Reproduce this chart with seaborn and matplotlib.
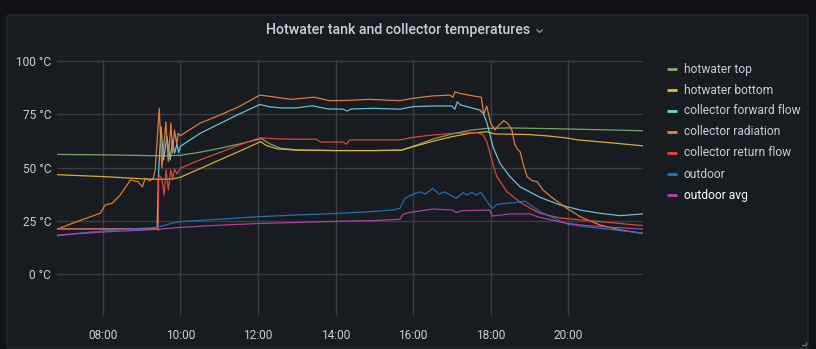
import matplotlib
matplotlib.use("Agg")
import matplotlib.pyplot as plt
from matplotlib.patches import FancyBboxPatch
from matplotlib.lines import Line2D
import pandas as pd
import seaborn as sns

# ---- data: time of day in hours, temperature in °C ----
series_names = ["hotwater top", "hotwater bottom", "collector forward flow",
                "collector radiation", "collector return flow", "outdoor", "outdoor avg"]
series_colors = ["#7EB26D", "#EAB839", "#6ED0E0", "#EF843C", "#E24D42", "#1F78C1", "#BA43A9"]

hotwater_top_t = [6.83, 8.0, 9.0, 9.5, 10.0, 10.5, 11.0, 11.5, 12.0, 12.1, 12.3, 12.6, 13.0,
                  14.0, 15.0, 15.7, 16.0, 16.5, 17.0, 17.5, 17.9, 18.5, 19.5, 20.5, 21.93]
hotwater_top_v = [56.2, 56.0, 55.7, 55.5, 55.8, 57.2, 59.0, 61.0, 63.2, 63.5, 61.2, 59.0, 58.3,
                  58.0, 58.0, 58.2, 60.0, 63.3, 65.8, 67.6, 68.4, 68.6, 68.3, 67.9, 67.3]

hotwater_bottom_t = [6.83, 8.0, 9.0, 9.45, 9.8, 10.0, 10.5, 11.0, 11.5, 12.07, 12.2, 12.5, 13.0,
                     14.0, 15.0, 15.7, 16.0, 16.5, 17.0, 17.5, 17.9, 18.1, 19.0, 19.5, 20.0,
                     20.25, 21.25, 21.93]
hotwater_bottom_v = [46.7, 45.8, 44.8, 44.5, 44.7, 45.5, 49.5, 53.5, 57.5, 62.2, 60.5, 58.8, 58.2,
                     58.0, 58.0, 58.2, 59.8, 62.3, 64.5, 66.2, 66.8, 65.8, 65.5, 64.8, 63.8,
                     63.0, 61.4, 60.2]

forward_t = [6.83, 9.40, 9.43, 9.50, 9.565, 9.652, 9.737, 9.796, 9.848, 9.91, 9.951, 10.0,
             10.5, 11.0, 11.5, 12.05, 12.3, 12.6, 13.0, 13.4, 13.8, 14.2, 14.3, 14.4, 15.0,
             15.66, 16.0, 16.5, 17.0, 17.08, 17.14, 17.22, 17.72, 17.81, 17.91, 18.06, 18.24,
             18.50, 18.76, 19.27, 19.79, 20.31, 20.82, 21.34, 21.93]
forward_v = [21.3, 21.3, 45.0, 69.2, 53.6, 64.5, 53.6, 63.0, 56.7, 61.0, 57.0, 60.0,
             66.0, 70.5, 75.0, 79.6, 78.5, 78.0, 78.0, 79.0, 77.5, 77.4, 76.5, 77.5, 77.8,
             77.4, 78.6, 78.9, 78.9, 77.4, 80.9, 79.4, 77.0, 75.5, 70.8, 59.8, 52.0,
             45.8, 41.0, 36.1, 32.5, 30.1, 28.6, 27.5, 28.3]

radiation_t = [6.83, 7.3, 7.93, 8.06, 8.24, 8.45, 8.71, 8.91, 9.02, 9.09, 9.22, 9.30, 9.35,
               9.454, 9.523, 9.626, 9.686, 9.755, 9.796, 9.848, 9.91, 9.936, 10.0, 10.5, 11.0,
               11.5, 12.05, 12.35, 12.85, 13.45, 13.85, 14.3, 14.85, 15.66, 16.0, 16.5, 16.95,
               17.03, 17.08, 17.21, 17.55, 17.76, 17.82, 17.90, 18.0, 18.11, 18.22, 18.34,
               18.45, 18.55, 18.62, 18.70, 18.76, 18.85, 18.94, 19.07, 19.20, 19.35, 19.61,
               19.97, 20.31, 20.82, 21.34, 21.93]
radiation_v = [21.2, 24.5, 28.6, 32.5, 33.3, 37.2, 44.2, 43.4, 41.0, 45.0, 43.9, 45.1, 48.9,
               77.8, 50.0, 71.5, 52.8, 71.0, 56.9, 67.6, 60.6, 66.0, 65.0, 70.8, 74.5,
               78.5, 84.0, 83.3, 82.0, 83.0, 81.4, 81.5, 82.0, 81.4, 82.5, 83.6, 84.0,
               83.0, 85.6, 84.8, 83.6, 83.0, 75.0, 78.8, 71.0, 67.6, 70.0, 72.0,
               70.5, 67.5, 61.0, 58.5, 57.5, 51.0, 45.8, 43.9, 43.4, 39.5, 35.6,
               30.9, 27.0, 23.1, 20.8, 19.2]

return_t = [6.83, 9.40, 9.43, 9.44, 9.52, 9.58, 9.63, 9.69, 9.75, 9.80, 9.85, 9.91, 10.0,
            10.5, 11.0, 11.5, 12.05, 12.5, 13.0, 13.5, 13.62, 14.2, 14.28, 14.36, 15.0, 15.66,
            16.0, 16.5, 17.0, 17.65, 17.80, 17.90, 18.03, 18.16, 18.42, 18.76, 19.02, 19.27,
            19.79, 20.31, 20.82, 21.93]
return_v = [21.3, 21.3, 20.6, 46.5, 45.0, 37.2, 48.9, 39.5, 48.9, 45.0, 49.2, 47.0, 49.7,
            53.6, 57.0, 60.5, 64.0, 63.5, 63.3, 63.3, 62.0, 62.0, 61.0, 63.0, 63.0, 63.0,
            64.2, 65.3, 66.0, 66.4, 65.5, 62.2, 53.6, 45.8, 38.7, 33.8, 31.0, 28.6,
            26.4, 25.5, 24.7, 22.8]

outdoor_t = [6.83, 7.5, 8.5, 9.4, 9.5, 9.8, 10.0, 11.0, 12.0, 13.0, 14.0, 15.0, 15.5, 15.66,
             15.79, 16.0, 16.18, 16.31, 16.51, 16.67, 16.82, 16.95, 17.11, 17.29, 17.39, 17.52,
             17.62, 17.75, 17.91, 18.04, 18.17, 18.42, 18.63, 18.89, 19.02, 19.27, 19.61,
             19.97, 20.49, 21.16, 21.93]
outdoor_v = [18.0, 19.5, 21.0, 22.0, 22.5, 24.0, 24.7, 25.8, 27.0, 27.8, 28.5, 29.5, 30.2, 30.9,
             35.6, 37.6, 38.7, 37.6, 40.3, 37.6, 38.7, 37.2, 35.6, 38.3, 37.2, 38.3,
             37.2, 38.3, 34.0, 30.9, 32.8, 33.3, 33.6, 34.3, 32.5, 29.4, 26.5,
             23.6, 22.2, 20.9, 19.2]

outdoor_avg_t = [6.83, 8.0, 9.0, 9.5, 10.0, 11.0, 12.0, 13.0, 14.0, 15.0, 15.66, 15.74, 15.92,
                 16.51, 17.03, 17.11, 17.26, 17.98, 18.04, 18.5, 19.02, 19.2, 19.55, 19.97,
                 20.49, 21.16, 21.93]
outdoor_avg_v = [18.4, 19.8, 20.7, 21.2, 22.0, 23.0, 23.8, 24.3, 24.8, 25.2, 25.8, 28.1, 29.0,
                 30.6, 30.1, 29.0, 29.8, 30.1, 27.3, 28.3, 28.3, 27.0, 25.5, 23.9,
                 22.8, 22.0, 21.2]

x_ticks = [8, 10, 12, 14, 16, 18, 20]
x_tick_labels = ["08:00", "10:00", "12:00", "14:00", "16:00", "18:00", "20:00"]
y_ticks = [0, 25, 50, 75, 100]
y_tick_labels = ["0 °C", "25 °C", "50 °C", "75 °C", "100 °C"]
title = "Hotwater tank and collector temperatures"

series_data = [(hotwater_top_t, hotwater_top_v), (hotwater_bottom_t, hotwater_bottom_v),
               (forward_t, forward_v), (radiation_t, radiation_v), (return_t, return_v),
               (outdoor_t, outdoor_v), (outdoor_avg_t, outdoor_avg_v)]

frames = []
for name, (t, v) in zip(series_names, series_data):
    frames.append(pd.DataFrame({"hour": t, "temp": v, "series": name}))
df = pd.concat(frames, ignore_index=True)

# ---- styling ----
PAGE_BG = "#111217"
PANEL_BG = "#181b1f"
TEXT = "#ccccdc"
GRID = "#3a3d44"

sns.set_theme(style="dark")
plt.rcParams["font.family"] = ["Roboto", "DejaVu Sans"]

W, H = 816, 349
fig = plt.figure(figsize=(W / 100, H / 100), dpi=100)
fig.patch.set_facecolor(PAGE_BG)


def fx(px):
    return px / W


def fy(py):
    return 1 - py / H


panel = FancyBboxPatch((fx(7), fy(348)), fx(801), 333 / H,
                       boxstyle="round,pad=0,rounding_size=0.003",
                       transform=fig.transFigure, facecolor=PANEL_BG,
                       edgecolor="#25282e", linewidth=1.0, zorder=-10)
fig.add_artist(panel)

ax_left, ax_right, ax_top, ax_bottom = 57.3, 643.0, 59.9, 316.0
ax = fig.add_axes([fx(ax_left), fy(ax_bottom), fx(ax_right - ax_left), (ax_bottom - ax_top) / H])
ax.set_facecolor("none")

sns.lineplot(data=df, x="hour", y="temp", hue="series", hue_order=series_names,
             palette=series_colors, linewidth=0.9, alpha=0.92, estimator=None, sort=False,
             legend=False, ax=ax)

ax.set_xlim(6.825, 21.93)
ax.set_ylim(-19.55, 100.5)
ax.set_xticks(x_ticks)
ax.set_xticklabels(x_tick_labels)
ax.set_yticks(y_ticks)
ax.set_yticklabels(y_tick_labels)
ax.set_xlabel("")
ax.set_ylabel("")
for s in ax.spines.values():
    s.set_visible(False)
ax.grid(True, color=GRID, linewidth=1.0)
ax.set_axisbelow(True)
ax.tick_params(axis="both", length=0, colors=TEXT, labelsize=8.6)
ax.tick_params(axis="x", pad=9.5)
ax.tick_params(axis="y", pad=4.5)

# title with dropdown chevron
fig.text(fx(398.5), fy(30), title, ha="center", va="center", fontsize=10.2,
         color=TEXT, fontweight="medium")
fig.add_artist(Line2D([fx(536.8), fx(539.6), fx(542.4)], [fy(29.8), fy(32.4), fy(29.8)],
                      transform=fig.transFigure, color="#9a9aa6", linewidth=0.9))

# legend on the right
leg_rows = [69, 90, 111, 131.7, 152.7, 174, 195]
for name, color, ry in zip(series_names, series_colors, leg_rows):
    fig.add_artist(Line2D([fx(667), fx(677)], [fy(ry), fy(ry)], transform=fig.transFigure,
                          color=color, linewidth=2.0, solid_capstyle="butt"))
    fig.text(fx(683.5), fy(ry), name, ha="left", va="center", fontsize=8.65,
             color="#ffffff" if name == "outdoor avg" else TEXT)

# resize handle
fig.add_artist(Line2D([fx(802), fx(805.5), fx(805.5)], [fy(345), fy(345), fy(341.5)],
                      transform=fig.transFigure, color="#6e6f78", linewidth=1.0))

fig.savefig("out.png", dpi=100, facecolor=PAGE_BG)
